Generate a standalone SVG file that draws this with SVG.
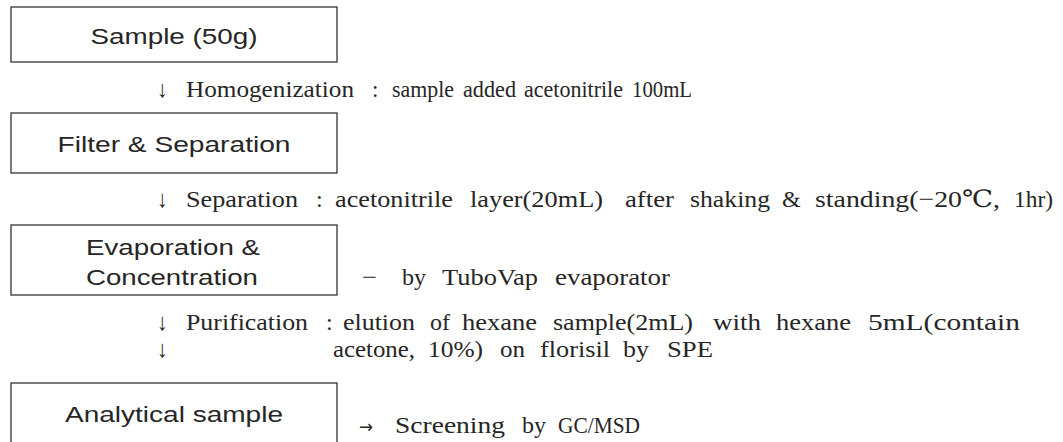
<svg xmlns="http://www.w3.org/2000/svg" width="1063" height="442" viewBox="0 0 1063 442">
<style>
.box{fill:#fff;stroke:#333;stroke-width:1.3}
.sans{font-family:"Liberation Sans",Arial,sans-serif;font-size:22px;fill:#262626;text-anchor:middle}
.s{font-family:"Liberation Serif","DejaVu Serif",serif;font-size:24px;fill:#262626}
.s1{font-family:"Liberation Serif","DejaVu Serif",serif;font-size:23px;fill:#262626}
.arr{font-family:"Liberation Serif","DejaVu Serif",serif;font-size:24px;fill:#262626}
.arr2{font-family:"DejaVu Sans",sans-serif;font-size:18px;fill:#262626}
</style>
<rect width="1063" height="442" fill="#fff"/>
<g id="node-sample">
<rect class="box" x="11" y="7" width="326" height="55"/>
<text class="sans" x="174" y="44" textLength="167" lengthAdjust="spacingAndGlyphs">Sample (50g)</text>
</g>
<g id="node-filter">
<rect class="box" x="11" y="113" width="326" height="60"/>
<text class="sans" x="174" y="152" textLength="233" lengthAdjust="spacingAndGlyphs">Filter &amp; Separation</text>
</g>
<g id="node-evap">
<rect class="box" x="11" y="225" width="326" height="70"/>
<text class="sans" x="173" y="255" textLength="174" lengthAdjust="spacingAndGlyphs">Evaporation &amp;</text>
<text class="sans" x="172" y="285" textLength="172" lengthAdjust="spacingAndGlyphs">Concentration</text>
</g>
<g id="node-analytical">
<rect class="box" x="11" y="383" width="326" height="70"/>
<text class="sans" x="174" y="422" textLength="218" lengthAdjust="spacingAndGlyphs">Analytical sample</text>
</g>
<g id="connectors">
<text class="arr" x="157" y="97" textLength="11" lengthAdjust="spacingAndGlyphs">↓</text>
<text class="arr" x="157" y="207" textLength="11" lengthAdjust="spacingAndGlyphs">↓</text>
<text class="arr" x="157" y="330" textLength="11" lengthAdjust="spacingAndGlyphs">↓</text>
<text class="arr" x="157" y="357" textLength="11" lengthAdjust="spacingAndGlyphs">↓</text>
<text class="arr2" x="359" y="433" textLength="14" lengthAdjust="spacingAndGlyphs">→</text>
</g>
<g id="labels">
<g id="label-homogenization">
<text class="s1" x="186" y="97" textLength="168" lengthAdjust="spacingAndGlyphs">Homogenization</text>
<text class="s1" x="372" y="97">:</text>
<text class="s1" x="392" y="97" textLength="62" lengthAdjust="spacingAndGlyphs">sample</text>
<text class="s1" x="463" y="97" textLength="53" lengthAdjust="spacingAndGlyphs">added</text>
<text class="s1" x="524" y="97" textLength="99" lengthAdjust="spacingAndGlyphs">acetonitrile</text>
<text class="s1" x="632" y="97" textLength="60" lengthAdjust="spacingAndGlyphs">100mL</text>
</g>
<g id="label-separation">
<text class="s" x="186" y="207" textLength="112" lengthAdjust="spacingAndGlyphs">Separation</text>
<text class="s" x="316" y="207">:</text>
<text class="s" x="335" y="207" textLength="118" lengthAdjust="spacingAndGlyphs">acetonitrile</text>
<text class="s" x="470" y="207" textLength="133" lengthAdjust="spacingAndGlyphs">layer(20mL)</text>
<text class="s" x="625" y="207" textLength="49" lengthAdjust="spacingAndGlyphs">after</text>
<text class="s" x="690" y="207" textLength="80" lengthAdjust="spacingAndGlyphs">shaking</text>
<text class="s" x="782" y="207">&amp;</text>
<text class="s" x="815" y="207" textLength="185" lengthAdjust="spacingAndGlyphs">standing(−20℃,</text>
<text class="s" x="1014" y="207" textLength="39" lengthAdjust="spacingAndGlyphs">1hr)</text>
</g>
<g id="label-tubovap">
<text class="s" x="362" y="285" textLength="15" lengthAdjust="spacingAndGlyphs">−</text>
<text class="s" x="402" y="285">by</text>
<text class="s" x="442" y="285" textLength="96" lengthAdjust="spacingAndGlyphs">TuboVap</text>
<text class="s" x="555" y="285" textLength="115" lengthAdjust="spacingAndGlyphs">evaporator</text>
</g>
<g id="label-purification">
<text class="s" x="186" y="330" textLength="122" lengthAdjust="spacingAndGlyphs">Purification</text>
<text class="s" x="326" y="330">:</text>
<text class="s" x="343" y="330" textLength="72" lengthAdjust="spacingAndGlyphs">elution</text>
<text class="s" x="430" y="330">of</text>
<text class="s" x="462" y="330" textLength="75" lengthAdjust="spacingAndGlyphs">hexane</text>
<text class="s" x="553" y="330" textLength="140" lengthAdjust="spacingAndGlyphs">sample(2mL)</text>
<text class="s" x="713" y="330" textLength="48" lengthAdjust="spacingAndGlyphs">with</text>
<text class="s" x="776" y="330" textLength="75" lengthAdjust="spacingAndGlyphs">hexane</text>
<text class="s" x="868" y="330" textLength="152" lengthAdjust="spacingAndGlyphs">5mL(contain</text>
<text class="s" x="333" y="357" textLength="82" lengthAdjust="spacingAndGlyphs">acetone,</text>
<text class="s" x="428" y="357" textLength="55" lengthAdjust="spacingAndGlyphs">10%)</text>
<text class="s" x="500" y="357" textLength="25" lengthAdjust="spacingAndGlyphs">on</text>
<text class="s" x="540" y="357" textLength="70" lengthAdjust="spacingAndGlyphs">florisil</text>
<text class="s" x="623" y="357" textLength="26" lengthAdjust="spacingAndGlyphs">by</text>
<text class="s" x="667" y="357" textLength="46" lengthAdjust="spacingAndGlyphs">SPE</text>
</g>
<g id="label-screening">
<text class="s" x="395" y="433" textLength="110" lengthAdjust="spacingAndGlyphs">Screening</text>
<text class="s" x="522" y="433">by</text>
<text class="s" x="558" y="433" textLength="82" lengthAdjust="spacingAndGlyphs">GC/MSD</text>
</g>
</g>
</svg>
